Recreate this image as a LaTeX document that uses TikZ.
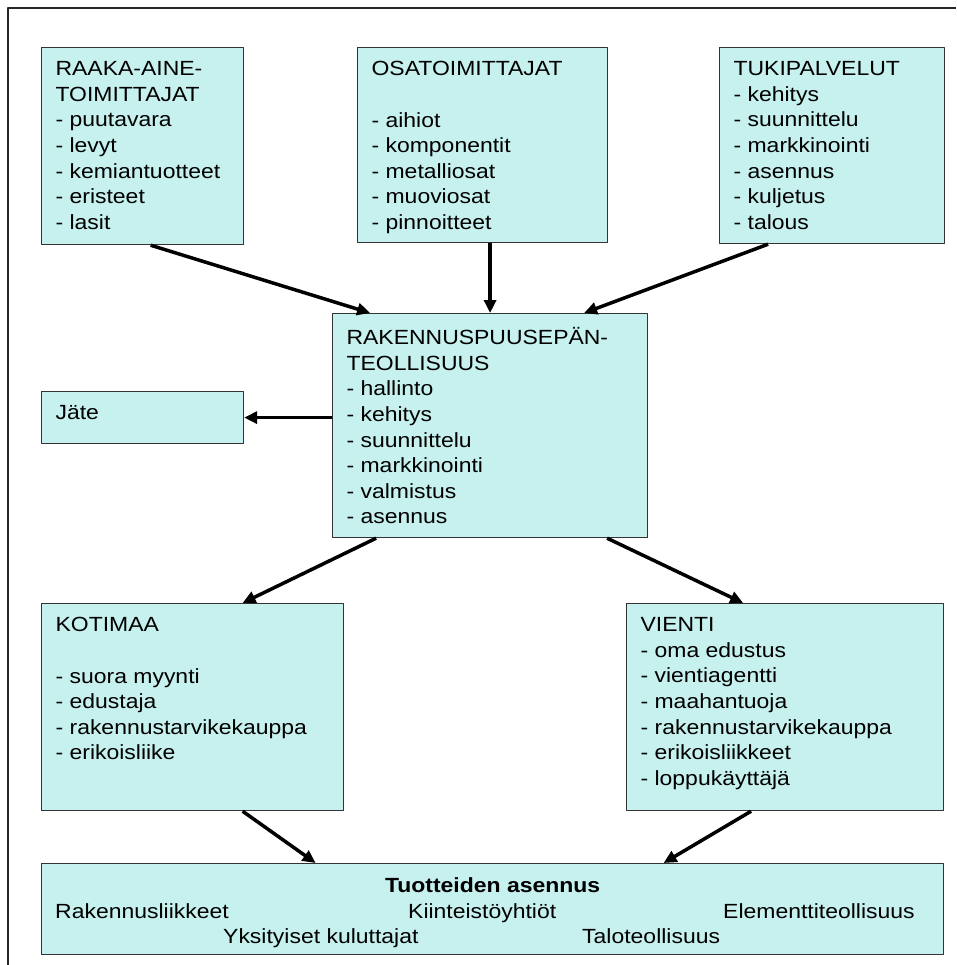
\documentclass[tikz,border=0pt]{standalone}
\usepackage{fontspec}
\setmainfont{Liberation Sans}[FakeStretch=1.12]
\usetikzlibrary{arrows.meta}
\definecolor{laatikko}{HTML}{C6F1EE}

\begin{document}
\begin{tikzpicture}[x=1pt,y=-1pt,line join=round,
  font=\fontsize{20.5}{25.6}\selectfont,
  lohko/.style={draw=black!80,line width=1.2pt,fill=laatikko,anchor=north west,inner xsep=14pt,inner ysep=14pt},
  nuoli/.style={-{Triangle[length=13pt,width=12pt]},line width=3.5pt},
  teksti/.style={anchor=base west,inner sep=0pt}]

\useasboundingbox (0,0) rectangle (956,965);
\fill[white] (0,0) rectangle (956,965);

% kehys
\draw[line width=1.5pt,black!85] (8,965) -- (8,8) -- (956,8);

% toimittajat
\node[lohko] (raaka) at (41,47) {\parbox[t][169pt][t]{174pt}{RAAKA-AINE-\\TOIMITTAJAT\\- puutavara\\- levyt\\- kemiantuotteet\\- eristeet\\- lasit}};
\node[lohko] (osa) at (357,47) {\parbox[t][167pt][t]{222pt}{OSATOIMITTAJAT\\\mbox{}\\- aihiot\\- komponentit\\- metalliosat\\- muoviosat\\- pinnoitteet}};
\node[lohko] (tuki) at (719,47) {\parbox[t][168pt][t]{197pt}{TUKIPALVELUT\\- kehitys\\- suunnittelu\\- markkinointi\\- asennus\\- kuljetus\\- talous}};

% teollisuus
\node[lohko] (rak) at (332,313) {\parbox[t][196pt][t]{287pt}{RAKENNUSPUUSEPÄN-\\TEOLLISUUS\\- hallinto\\- kehitys\\- suunnittelu\\- markkinointi\\- valmistus\\- asennus}};
\node[lohko] (jate) at (41,391) {\parbox[t][24pt][t]{174pt}{Jäte}};

% jakelu
\node[lohko] (koti) at (41,603) {\parbox[t][179pt][t]{274pt}{KOTIMAA\\\mbox{}\\- suora myynti\\- edustaja\\- rakennustarvikekauppa\\- erikoisliike}};
\node[lohko] (vienti) at (626,603) {\parbox[t][179pt][t]{289pt}{VIENTI\\- oma edustus\\- vientiagentti\\- maahantuoja\\- rakennustarvikekauppa\\- erikoisliikkeet\\- loppukäyttäjä}};

% asennus
\node[lohko] (asennus) at (41,863) {\parbox[t][63pt][t]{874pt}{\centering\textbf{Tuotteiden asennus}}};
\node[teksti] (rakliik) at (55,918) {Rakennusliikkeet};
\node[teksti] (kiint) at (408,918) {Kiinteistöyhtiöt};
\node[teksti] (elem) at (723,918) {Elementtiteollisuus};
\node[teksti] (yksit) at (223,943) {Yksityiset kuluttajat};
\node[teksti] (talo) at (582,943) {Taloteollisuus};

\draw[nuoli] ([xshift=8pt]raaka.south) -- ([xshift=-120pt]rak.north);
\draw[nuoli] (rak.north |- osa.south) -- (rak.north);
\draw[nuoli] ([xshift=-64pt]tuki.south) -- ([xshift=94pt]rak.north);
\draw[nuoli] (jate.east -| rak.west) -- (jate.east);
\draw[nuoli] ([xshift=-114pt]rak.south) -- ([xshift=50pt]koti.north);
\draw[nuoli] ([xshift=117pt]rak.south) -- ([xshift=-42pt]vienti.north);
\draw[nuoli] ([xshift=50pt]koti.south) -- ([xshift=-177pt]asennus.north);
\draw[nuoli] ([xshift=-34pt]vienti.south) -- ([xshift=171pt]asennus.north);
\end{tikzpicture}
\end{document}
